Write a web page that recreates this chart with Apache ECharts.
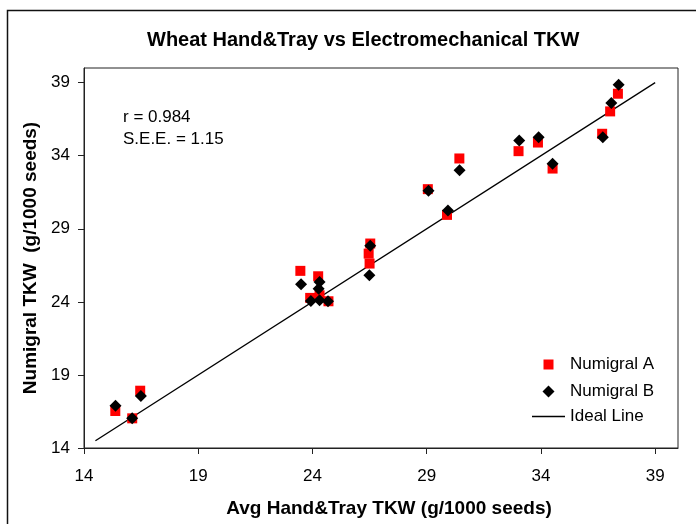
<!DOCTYPE html>
<html>
<head>
<meta charset="utf-8">
<script src="https://cdn.jsdelivr.net/npm/echarts@6/dist/echarts.min.js"></script>
<style>
  html, body { margin: 0; padding: 0; background: #fff; overflow: hidden; }
  #main { width: 696px; height: 524px; }
</style>
</head>
<body>
<div id="main"></div>
<script>
// Avg Hand&Tray TKW (x) against Numigral TKW (y)
var handTrayA = [15.37, 16.11, 16.46, 23.47, 24.25, 24.31, 23.90, 24.70, 26.53, 26.46,
  26.50, 29.05, 29.89, 30.43, 33.02, 33.87, 34.51, 36.68, 37.03, 37.37];
var numigralA = [16.53, 16.03, 17.92, 26.12, 25.75, 24.45, 24.27, 24.04, 27.99, 27.30,
  26.62, 31.71, 29.95, 33.81, 34.31, 34.90, 33.12, 35.50, 37.03, 38.24];

var handTrayB = [15.38, 16.11, 16.49, 23.50, 24.31, 24.27, 23.93, 24.31, 24.68, 26.53,
  26.49, 29.08, 29.93, 30.44, 33.05, 33.90, 34.51, 36.71, 37.08, 37.40];
var numigralB = [16.89, 16.03, 17.55, 25.21, 25.36, 24.90, 24.06, 24.11, 24.04, 27.83,
  25.82, 31.60, 30.25, 33.01, 35.04, 35.27, 33.45, 35.27, 37.60, 38.86];

var idealLine = [14.5, 39];
var tickValues = [14, 19, 24, 29, 34, 39];

function pairs(xs, ys) {
  return xs.map(function (x, i) { return [x, ys[i]]; });
}

var font = '"Liberation Sans", Arial, sans-serif';
var chart = echarts.init(document.getElementById('main'));

function axis(name, isX) {
  return {
    type: 'value',
    min: 14,
    max: 40,
    name: name,
    nameLocation: 'middle',
    nameGap: isX ? 51 : 43,
    nameTextStyle: {
      fontFamily: font, fontSize: 19, fontWeight: 'bold', color: '#000',
      padding: isX ? [0, 0, 0, 16] : 0
    },
    axisLine: { show: true, onZero: false, lineStyle: { color: '#222', width: 1 } },
    axisTick: { show: true, length: 6, customValues: tickValues, lineStyle: { color: '#222' } },
    axisLabel: {
      customValues: tickValues,
      margin: isX ? 20 : 14,
      fontFamily: font, fontSize: 17, color: '#000'
    },
    splitLine: { show: false }
  };
}

// one legend per entry so each icon keeps its own size
// (left is the icon's visible left edge, the item box is 33px wide)
function legendAt(left, top, name, icon, h) {
  return {
    data: [{ name: name, icon: icon }],
    left: left,
    top: top,
    padding: 0,
    itemWidth: 33,
    itemHeight: h,
    textStyle: { fontFamily: font, fontSize: 17, color: '#000' },
    selectedMode: false
  };
}

chart.setOption({
  animation: false,
  title: {
    text: 'Wheat Hand&Tray vs Electromechanical TKW',
    left: 147,
    top: 30,
    padding: 0,
    textStyle: { fontFamily: font, fontSize: 20, fontWeight: 'bold', color: '#000' }
  },
  grid: {
    left: 84, right: 18, top: 68, bottom: 76,
    show: true, borderColor: '#222', borderWidth: 1
  },
  xAxis: axis('Avg Hand&Tray TKW (g/1000 seeds)', true),
  yAxis: axis('Numigral TKW  (g/1000 seeds)', false),
  legend: [
    legendAt(543.5, 356, 'Numigral A', 'path://M0,0L10,0L10,10L0,10Z', 10),
    legendAt(542.5, 383, 'Numigral B', 'path://M6,0L12,6L6,12L0,6Z', 12),
    legendAt(532, 408, 'Ideal Line', 'path://M0,0L33,0L33,1.3L0,1.3Z', 14)
  ],
  graphic: [
    {
      // outer frame, runs off the right and bottom edges
      type: 'polyline',
      shape: { points: [[7.5, 530], [7.5, 10.5], [700, 10.5]] },
      style: { fill: 'none', stroke: '#111', lineWidth: 1.5 },
      silent: true
    },
    {
      type: 'text',
      left: 123,
      top: 106,
      style: {
        text: 'r = 0.984\nS.E.E. = 1.15',
        font: '17px ' + font,
        lineHeight: 22,
        fill: '#000'
      }
    }
  ],
  series: [
    {
      name: 'Ideal Line',
      type: 'line',
      symbol: 'none',
      lineStyle: { color: '#000', width: 1.3 },
      itemStyle: { color: '#000' },
      data: pairs(idealLine, idealLine),
      z: 1
    },
    {
      name: 'Numigral A',
      type: 'scatter',
      symbol: 'rect',
      symbolSize: 10,
      itemStyle: { color: '#ff0000', opacity: 1 },
      data: pairs(handTrayA, numigralA),
      z: 2
    },
    {
      name: 'Numigral B',
      type: 'scatter',
      symbol: 'diamond',
      symbolSize: 12,
      itemStyle: { color: '#000', opacity: 1 },
      data: pairs(handTrayB, numigralB),
      z: 3
    }
  ]
});
</script>
</body>
</html>
